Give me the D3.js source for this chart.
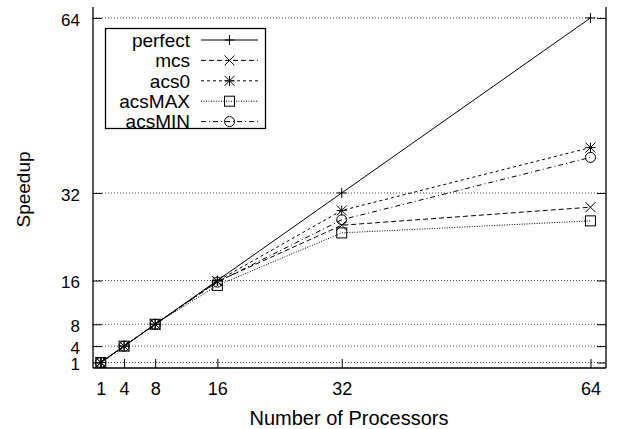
<!DOCTYPE html>
<html>
<head>
<meta charset="utf-8">
<script src="https://cdn.jsdelivr.net/npm/d3@7"></script>
<style>
  body { margin: 0; background: #fff; }
  text { font-family: "Liberation Sans", Arial, Helvetica, sans-serif; font-size: 19px; fill: #000; }
</style>
</head>
<body>
<svg id="chart" width="618" height="429"></svg>
<script>
// Prozessoranzahl und Speedup-Werte
const processors = [1, 4, 8, 16, 32, 64];
const perfect = [1, 4, 8, 16, 32, 64];
const mcs = [1, 4, 8, 15.8, 26.1, 29.4];
const acs0 = [1, 4, 8, 15.9, 28.8, 40.3];
const acsMAX = [1, 4, 8, 15.1, 24.7, 26.9];
const acsMIN = [1, 4, 8, 15.7, 27.1, 38.5];
const xTicks = [1, 4, 8, 16, 32, 64];
const yTicks = [1, 4, 8, 16, 32, 64];

const series = [
  { name: 'perfect', values: perfect, dash: null, marker: 'plus' },
  { name: 'mcs', values: mcs, dash: '5,3', marker: 'cross' },
  { name: 'acs0', values: acs0, dash: '3,3', marker: 'star' },
  { name: 'acsMAX', values: acsMAX, dash: '1,1.5', marker: 'square' },
  { name: 'acsMIN', values: acsMIN, dash: '5,3,1,3', marker: 'circle' }
];

const svg = d3.select('#chart');
const mLeft = 93, mRight = 606, mTop = 7, mBottom = 368;

const x = d3.scaleLinear().domain([0, 66]).range([mLeft, mRight]);
const y = d3.scaleLinear().domain([0, 66]).range([mBottom, mTop]);

// Gitterlinien
svg.append('g')
  .selectAll('line')
  .data(yTicks)
  .join('line')
  .attr('x1', mLeft).attr('x2', mRight)
  .attr('y1', d => y(d)).attr('y2', d => y(d))
  .attr('stroke', '#444')
  .attr('stroke-width', 1)
  .attr('stroke-dasharray', '1,2');

// Achsen
const yAxis = svg.append('g')
  .attr('transform', `translate(${mLeft},0)`)
  .call(d3.axisLeft(y).tickValues(yTicks).tickSize(-9).tickPadding(13).tickFormat(d3.format('d')));
const yAxisR = svg.append('g')
  .attr('transform', `translate(${mRight},0)`)
  .call(d3.axisRight(y).tickValues(yTicks).tickSize(-9).tickFormat(''));
const xAxis = svg.append('g')
  .attr('transform', `translate(0,${mBottom})`)
  .call(d3.axisBottom(x).tickValues(xTicks).tickSize(-9).tickPadding(14).tickFormat(d3.format('d')));

[yAxis, yAxisR, xAxis].forEach(a => {
  a.select('.domain').attr('stroke', '#000').attr('stroke-width', 1.3);
  a.selectAll('.tick line').attr('stroke', '#000');
  a.selectAll('text').style('font-size', '18px').attr('fill', '#000');
});
yAxis.selectAll('.tick text').style('font-size', '17px').attr('dy', '0.42em');
xAxis.select('.domain').attr('d', `M${mLeft},0H${mRight}`);
yAxis.select('.domain').attr('d', `M0,${mBottom}V${mTop}`);
yAxisR.select('.domain').attr('d', `M0,${mBottom}V${mTop}`);

// Achsenbeschriftungen
svg.append('text')
  .attr('x', 349).attr('y', 425)
  .attr('text-anchor', 'middle')
  .style('font-size', '20px')
  .text('Number of Processors');
svg.append('text')
  .attr('transform', 'translate(30,189.5) rotate(-90)')
  .attr('text-anchor', 'middle')
  .text('Speedup');

// Markierungen
function drawMarker(g, type, cx, cy) {
  const s = 5;
  if (type === 'plus') {
    g.append('path').attr('d', `M${cx - s},${cy}H${cx + s}M${cx},${cy - s}V${cy + s}`);
  } else if (type === 'cross') {
    g.append('path').attr('d', `M${cx - s},${cy - s}L${cx + s},${cy + s}M${cx - s},${cy + s}L${cx + s},${cy - s}`);
  } else if (type === 'star') {
    g.append('path').attr('d', `M${cx - s},${cy}H${cx + s}M${cx},${cy - s}V${cy + s}M${cx - s},${cy - s}L${cx + s},${cy + s}M${cx - s},${cy + s}L${cx + s},${cy - s}`);
  } else if (type === 'square') {
    g.append('rect').attr('x', cx - s).attr('y', cy - s).attr('width', 2 * s).attr('height', 2 * s).attr('fill', 'none');
  } else if (type === 'circle') {
    g.append('circle').attr('cx', cx).attr('cy', cy).attr('r', s).attr('fill', 'none');
  }
}

const line = d3.line().x((d, i) => x(processors[i])).y(d => y(d));

series.forEach(s => {
  const g = svg.append('g').attr('stroke', '#000').attr('fill', 'none').attr('stroke-width', 1);
  g.append('path')
    .attr('d', line(s.values))
    .attr('stroke-dasharray', s.dash);
  s.values.forEach((v, i) => drawMarker(g, s.marker, x(processors[i]), y(v)));
});

// Legende
const legend = svg.append('g');
legend.append('rect')
  .attr('x', 105.5).attr('y', 28.5).attr('width', 160).attr('height', 100)
  .attr('fill', '#fff').attr('stroke', '#000').attr('stroke-width', 1.3);
series.forEach((s, i) => {
  const ly = 40 + i * 20.4;
  legend.append('text')
    .attr('x', 190).attr('y', ly).attr('dy', '0.36em')
    .attr('text-anchor', 'end')
    .text(s.name);
  const g = legend.append('g').attr('stroke', '#000').attr('fill', 'none').attr('stroke-width', 1);
  g.append('line').attr('x1', 201).attr('x2', 258).attr('y1', ly).attr('y2', ly)
    .attr('stroke-dasharray', s.dash);
  drawMarker(g, s.marker, 229.5, ly);
});
</script>
</body>
</html>
